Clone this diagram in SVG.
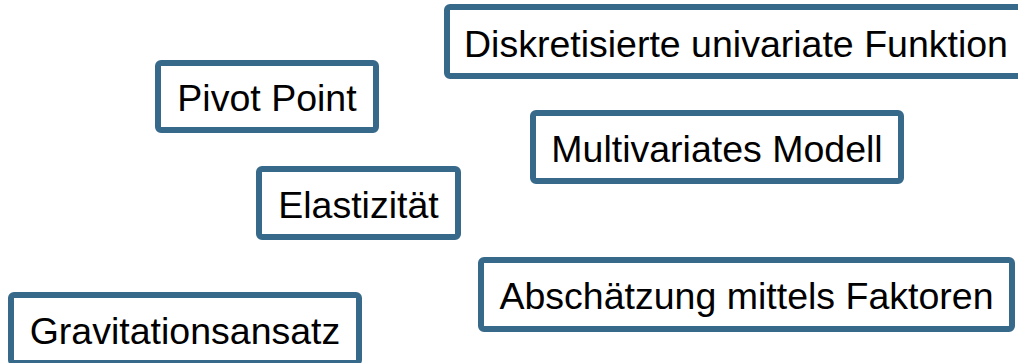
<svg xmlns="http://www.w3.org/2000/svg" width="1018" height="363" viewBox="0 0 1018 363">
  <style>
    .box { fill: #ffffff; stroke: #36698a; stroke-width: 6; }
    .label { font-family: "Liberation Sans", Arial, sans-serif; font-size: 37.5px; fill: #000000; text-anchor: middle; }
  </style>
  <rect width="1018" height="363" fill="#ffffff"/>
  <g id="connectors"></g>
  <g id="node-diskretisiert">
    <rect class="box" x="447" y="7" width="578" height="69" rx="3"/>
    <text class="label" x="736" y="56.5">Diskretisierte univariate Funktion</text>
  </g>
  <g id="node-pivot">
    <rect class="box" x="158" y="63" width="218" height="67" rx="3"/>
    <text class="label" x="267" y="111">Pivot Point</text>
  </g>
  <g id="node-multivariat">
    <rect class="box" x="533" y="113" width="368" height="68" rx="3"/>
    <text class="label" x="717" y="161.5">Multivariates Modell</text>
  </g>
  <g id="node-elastizitaet">
    <rect class="box" x="259" y="169" width="199" height="68" rx="3"/>
    <text class="label" x="358.5" y="217.5">Elastizität</text>
  </g>
  <g id="node-faktoren">
    <rect class="box" x="481" y="260" width="531" height="69" rx="3"/>
    <text class="label" x="746.5" y="309">Abschätzung mittels Faktoren</text>
  </g>
  <g id="node-gravitation">
    <rect class="box" x="11" y="295" width="348" height="68" rx="3"/>
    <text class="label" x="185" y="343.5">Gravitationsansatz</text>
  </g>
</svg>
